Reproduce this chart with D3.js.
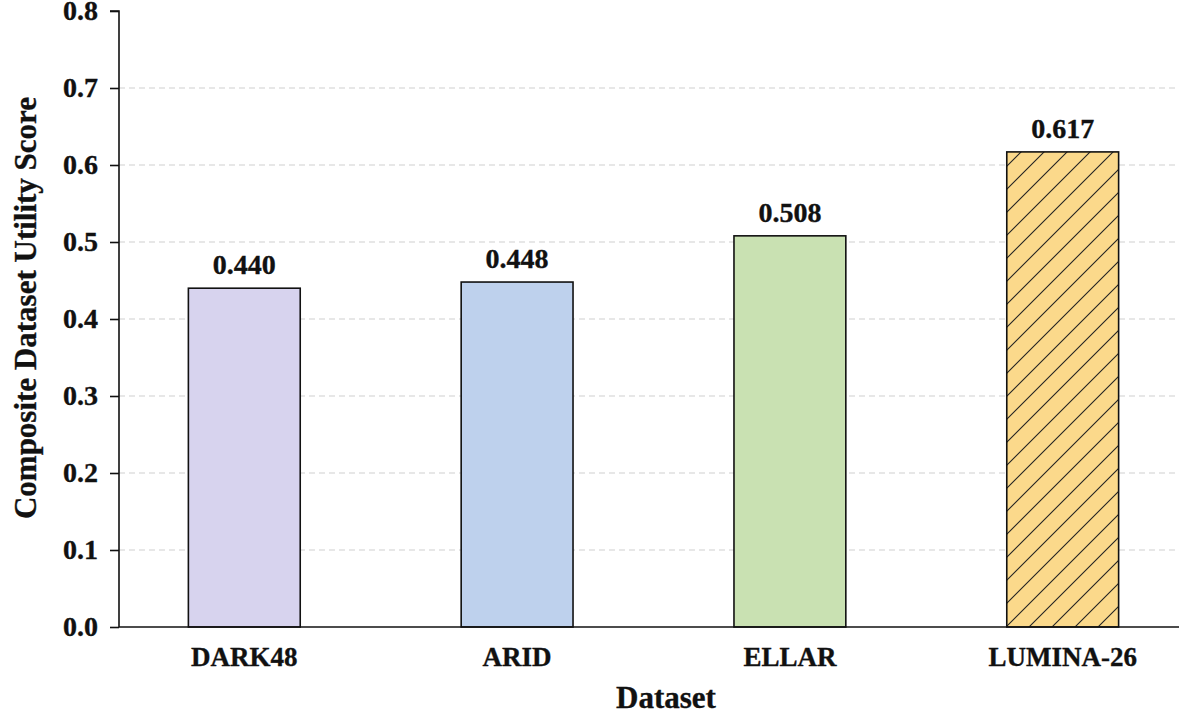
<!DOCTYPE html>
<html>
<head>
<meta charset="utf-8">
<script src="https://cdn.jsdelivr.net/npm/d3@7"></script>
<style>
  html, body { margin: 0; padding: 0; background: #fff; }
  svg { display: block; }
  svg text { font-family: "Times New Roman", Tinos, "Liberation Serif", Times, "DejaVu Serif", serif !important; font-weight: bold; fill: #111; stroke: #111; stroke-width: 0.35px; }
</style>
</head>
<body>
<svg id="chart" width="1184" height="718"></svg>
<script>
const categories = ["DARK48", "ARID", "ELLAR", "LUMINA-26"];
const scores = [0.440, 0.448, 0.508, 0.617];
const valueLabels = ["0.440", "0.448", "0.508", "0.617"];
const barColors = ["#d7d3ee", "#bed1ed", "#c9e1b2", "#fbd98b"];
const hatched = [false, false, false, true];
const yTicks = [0.0, 0.1, 0.2, 0.3, 0.4, 0.5, 0.6, 0.7, 0.8];

const svg = d3.select("#chart");
const axisX0 = 119, axisX1 = 1179;
const yTop = 11, yBottom = 627;

const y = d3.scaleLinear().domain([0, 0.8]).range([yBottom, yTop]);
const x = d3.scaleBand().domain(categories).range([124, 1183])
  .paddingInner(0.59).paddingOuter(0.236);

// hatch pattern
const defs = svg.append("defs");
const s = 23;
const pat = defs.append("pattern").attr("id", "hatch")
  .attr("patternUnits", "userSpaceOnUse").attr("width", s).attr("height", s);
pat.append("rect").attr("width", s).attr("height", s).attr("fill", barColors[3]);
pat.append("path")
  .attr("d", `M0,${s} L${s},0 M${-s/2},${s/2} L${s/2},${-s/2} M${s/2},${s*1.5} L${s*1.5},${s/2}`)
  .attr("stroke", "#222").attr("stroke-width", 1.1);

// grid
svg.append("g").selectAll("line")
  .data(yTicks.filter(t => t > 0 && t < 0.8))
  .join("line")
  .attr("x1", axisX0).attr("x2", axisX1)
  .attr("y1", d => y(d)).attr("y2", d => y(d))
  .attr("stroke", "#cfcfcf").attr("stroke-width", 1)
  .attr("stroke-dasharray", "6,4");

// bars
svg.append("g").selectAll("rect")
  .data(categories)
  .join("rect")
  .attr("x", d => x(d))
  .attr("width", x.bandwidth())
  .attr("y", (d, i) => y(scores[i]))
  .attr("height", (d, i) => y(0) - y(scores[i]))
  .attr("fill", (d, i) => hatched[i] ? "url(#hatch)" : barColors[i])
  .attr("stroke", "#111").attr("stroke-width", 1.6);

// value labels
svg.append("g").selectAll("text")
  .data(categories)
  .join("text")
  .attr("x", d => x(d) + x.bandwidth() / 2)
  .attr("y", (d, i) => y(scores[i]) - 14)
  .attr("text-anchor", "middle")
  .style("font-size", "28px")
  .text((d, i) => valueLabels[i]);

// y axis
const yAxis = d3.axisLeft(y).tickValues(yTicks).tickFormat(d3.format(".1f"))
  .tickSize(9).tickPadding(12);
const gy = svg.append("g").attr("transform", `translate(${axisX0},0)`).call(yAxis)
  .attr("font-family", null).attr("font-size", null);
gy.select(".domain").attr("stroke", "#111").attr("stroke-width", 1.6)
  .attr("d", `M-9,${yTop}H0V${yBottom}`);
gy.selectAll(".tick line").attr("stroke", "#111").attr("stroke-width", 1.6);
gy.selectAll(".tick text").style("font-size", "28px").attr("fill", "#111");

// x axis
const xAxis = d3.axisBottom(x).tickSize(0).tickPadding(20);
const gx = svg.append("g").attr("transform", `translate(0,${yBottom})`).call(xAxis)
  .attr("font-family", null).attr("font-size", null);
gx.select(".domain").attr("d", `M${axisX0},0H${axisX1}`).attr("stroke", "#111").attr("stroke-width", 1.6);
gx.selectAll(".tick text").style("font-size", "27px").attr("fill", "#111");

// axis titles
svg.append("text")
  .attr("x", (axisX0 + axisX1) / 2 + 17).attr("y", 708)
  .attr("text-anchor", "middle").style("font-size", "31px")
  .text("Dataset");
svg.append("text")
  .attr("transform", `translate(36,308) rotate(-90)`)
  .attr("text-anchor", "middle").style("font-size", "31px")
  .text("Composite Dataset Utility Score");
</script>
</body>
</html>
